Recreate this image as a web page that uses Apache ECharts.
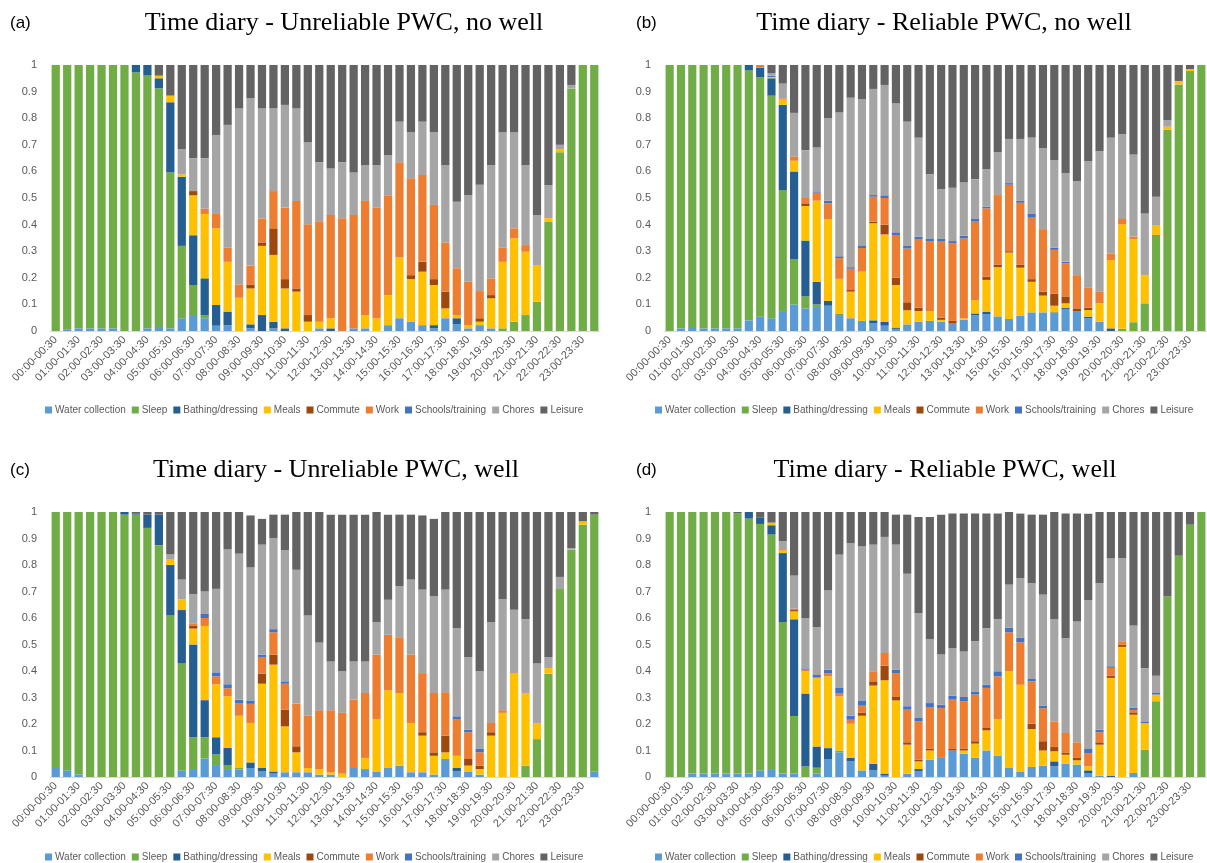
<!DOCTYPE html>
<html><head><meta charset="utf-8">
<script src="https://cdn.jsdelivr.net/npm/echarts@6/dist/echarts.min.js"></script>
<style>html,body{margin:0;padding:0;background:#fff}#c{width:1207px;height:863px}</style>
</head><body><div id="c"></div>
<script>
const timeSlots = ["00:00-00:30","00:30-01:00","01:00-01:30","01:30-02:00","02:00-02:30","02:30-03:00","03:00-03:30","03:30-04:00","04:00-04:30","04:30-05:00","05:00-05:30","05:30-06:00","06:00-06:30","06:30-07:00","07:00-07:30","07:30-08:00","08:00-08:30","08:30-09:00","09:00-09:30","09:30-10:00","10:00-10:30","10:30-11:00","11:00-11:30","11:30-12:00","12:00-12:30","12:30-13:00","13:00-13:30","13:30-14:00","14:00-14:30","14:30-15:00","15:00-15:30","15:30-16:00","16:00-16:30","16:30-17:00","17:00-17:30","17:30-18:00","18:00-18:30","18:30-19:00","19:00-19:30","19:30-20:00","20:00-20:30","20:30-21:00","21:00-21:30","21:30-22:00","22:00-22:30","22:30-23:00","23:00-23:30","23:30-00:00"];
const seriesNames = ["Water collection","Sleep","Bathing/dressing","Meals","Commute","Work","Schools/training","Chores","Leisure"];
const seriesColors = ["#5B9BD5","#70AD47","#255E91","#FFC000","#9E480E","#ED7D31","#4472C4","#A5A5A5","#636363"];
const yTickLabels = ["0","0.1","0.2","0.3","0.4","0.5","0.6","0.7","0.8","0.9","1"];
const panelTitles = ["Time diary - Unreliable PWC, no well","Time diary - Reliable PWC, no well","Time diary - Unreliable PWC, well","Time diary - Reliable PWC, well"];
const panelLetters = ["(a)","(b)","(c)","(d)"];

// (a) Unreliable PWC, no well
const aWater = [0,0.005,0.01,0.01,0.01,0.01,0,0,0.01,0.015, 0.01,0.048,0.06,0.048,0.02,0.022,0,0.01,0,0.01, 0,0,0,0.01,0,0,0.01,0.01,0,0.022, 0.048,0.035,0.022,0.01,0.048,0.025,0.01,0.022,0.01,0, 0,0,0,0,0,0,0,0];
const aSleep = [1,0.995,0.99,0.99,0.99,0.99,1,0.972,0.952,0.897, 0.586,0.272,0.113,0.012,0,0,0,0,0,0, 0,0,0,0,0,0,0,0,0,0, 0,0,0,0,0,0,0,0,0,0.01, 0.035,0.06,0.11,0.41,0.672,0.912,1,1];
const aBath = [0,0,0,0,0,0,0,0.028,0.038,0.038, 0.264,0.26,0.187,0.138,0.078,0.051,0,0.015,0.06,0.025, 0.01,0,0,0,0.01,0,0,0,0,0, 0,0,0,0.012,0,0.023,0,0,0,0, 0,0,0,0,0,0,0,0];
const aMeals = [0,0,0,0,0,0,0,0,0,0.01, 0.025,0.009,0.15,0.242,0.288,0.187,0.125,0.135,0.26,0.251, 0.15,0.148,0.035,0.025,0.038,0,0,0.05,0.048,0.113, 0.228,0.16,0.201,0.151,0.037,0.012,0.012,0.013,0.113,0.25, 0.313,0.238,0.138,0.014,0.012,0,0,0];
const aCommute = [0,0,0,0,0,0,0,0,0,0, 0,0,0.016,0,0,0,0,0.015,0.013,0.1, 0.035,0.012,0.025,0,0,0,0,0,0,0, 0,0.015,0.037,0.022,0.063,0,0,0.013,0.012,0, 0,0,0,0,0,0,0,0];
const aWork = [0,0,0,0,0,0,0,0,0,0, 0,0,0,0.02,0.054,0.053,0.05,0.071,0.09,0.14, 0.269,0.329,0.341,0.378,0.388,0.424,0.426,0.429,0.416,0.375, 0.358,0.364,0.326,0.279,0.185,0.176,0.163,0.102,0.063,0.053, 0.038,0.025,0,0,0,0,0,0];
const aSchool = [0,0,0,0,0,0,0,0,0,0, 0,0,0,0,0,0,0,0,0,0, 0,0,0,0,0,0,0,0,0,0, 0,0,0,0,0,0,0,0,0,0, 0,0,0,0,0,0,0,0];
const aChores = [0,0,0,0,0,0,0,0,0,0, 0,0.095,0.124,0.19,0.297,0.462,0.662,0.629,0.414,0.311, 0.386,0.348,0.308,0.221,0.175,0.21,0.16,0.135,0.16,0.152, 0.153,0.173,0.201,0.273,0.291,0.25,0.326,0.4,0.426,0.434, 0.361,0.301,0.188,0.125,0.016,0.013,0,0];
const aLeisure = [0,0,0,0,0,0,0,0,0,0.04, 0.115,0.316,0.35,0.35,0.263,0.225,0.163,0.125,0.163,0.163, 0.15,0.163,0.291,0.366,0.389,0.366,0.404,0.376,0.376,0.338, 0.213,0.253,0.213,0.253,0.376,0.514,0.489,0.45,0.376,0.253, 0.253,0.376,0.564,0.451,0.3,0.075,0,0];

// (b) Reliable PWC, no well
const bWater = [0,0.01,0.015,0.01,0.01,0.01,0.01,0.04,0.054,0.048, 0.075,0.1,0.085,0.09,0.095,0.06,0.048,0.038,0.03,0.02, 0.008,0.025,0.035,0.038,0.035,0.03,0.042,0.06,0.064,0.055, 0.045,0.058,0.07,0.07,0.066,0.083,0.075,0.048,0.035,0, 0,0,0,0,0,0,0,0];
const bSleep = [1,0.99,0.985,0.99,0.99,0.99,0.99,0.94,0.9,0.837, 0.455,0.17,0.045,0.01,0,0.006,0,0,0,0, 0,0,0,0,0,0,0,0,0,0, 0,0,0,0,0,0,0,0,0,0, 0.008,0.033,0.104,0.361,0.756,0.927,0.977,1];
const bBath = [0,0,0,0,0,0,0,0.02,0.036,0.065, 0.32,0.33,0.21,0.085,0.018,0,0,0,0.01,0.015, 0.005,0,0,0,0,0,0,0.006,0.009,0, 0,0,0,0,0.004,0.005,0,0.006,0,0.01, 0,0,0,0,0,0,0,0];
const bMeals = [0,0,0,0,0,0,0,0,0,0.005, 0.02,0.04,0.13,0.305,0.307,0.13,0.1,0.185,0.365,0.328, 0.16,0.053,0.04,0.037,0.007,0,0.006,0.05,0.119,0.185, 0.25,0.18,0.115,0.063,0.025,0.016,0,0.025,0.069,0.257, 0.393,0.313,0.106,0.035,0.012,0.013,0.008,0];
const bCommute = [0,0,0,0,0,0,0,0,0,0, 0,0,0.01,0,0,0,0.006,0,0.006,0.037, 0.027,0.03,0.013,0,0.008,0.008,0,0,0.012,0.01, 0.005,0.012,0.01,0.015,0.045,0.026,0.01,0.009,0,0, 0,0,0,0,0,0,0,0];
const bWork = [0,0,0,0,0,0,0,0,0.01,0, 0.005,0.015,0.02,0.03,0.06,0.078,0.08,0.089,0.094,0.1, 0.161,0.202,0.258,0.263,0.286,0.292,0.3,0.295,0.257,0.261, 0.25,0.232,0.231,0.235,0.165,0.124,0.125,0.075,0.044,0.025, 0.02,0.009,0,0,0,0,0,0];
const bSchool = [0,0,0,0,0,0,0,0,0,0.005, 0,0,0,0.005,0.01,0.007,0.006,0.008,0.006,0.01, 0.01,0.01,0.009,0.01,0.01,0.008,0.01,0.01,0.006,0, 0.006,0.007,0.016,0,0.008,0.006,0,0,0,0, 0,0,0,0,0,0,0,0];
const bChores = [0,0,0,0,0,0,0,0,0,0.01, 0.055,0.165,0.18,0.165,0.31,0.541,0.637,0.552,0.399,0.415, 0.485,0.467,0.372,0.241,0.188,0.201,0.2,0.15,0.142,0.161, 0.166,0.233,0.285,0.304,0.33,0.333,0.354,0.476,0.529,0.435, 0.318,0.309,0.232,0.109,0.025,0,0,0];
const bLeisure = [0,0,0,0,0,0,0,0,0,0.03, 0.07,0.18,0.32,0.31,0.2,0.178,0.123,0.128,0.09,0.075, 0.144,0.213,0.273,0.411,0.466,0.461,0.442,0.429,0.391,0.328, 0.278,0.278,0.273,0.313,0.357,0.407,0.436,0.361,0.323,0.273, 0.261,0.336,0.558,0.495,0.207,0.06,0.015,0];

// (c) Unreliable PWC, well
const cWater = [0.034,0.025,0.01,0,0,0,0,0,0,0, 0,0.025,0.03,0.07,0.045,0.03,0.028,0.034,0.021,0.013, 0.018,0.018,0.018,0.009,0.009,0,0.034,0.03,0.021,0.034, 0.043,0.018,0.018,0.009,0.068,0.021,0.021,0.009,0,0, 0,0,0,0,0,0,0,0.021];
const cSleep = [0.966,0.975,0.99,1,1,1,0.99,0.99,0.94,0.875, 0.61,0.405,0.12,0.08,0.04,0.015,0.006,0,0,0, 0,0,0,0,0,0,0,0,0,0, 0,0,0,0,0,0,0,0,0,0, 0,0.043,0.143,0.39,0.709,0.858,0.952,0.969];
const cBath = [0,0,0,0,0,0,0.01,0.005,0.05,0.115, 0.19,0.2,0.35,0.14,0.065,0.065,0,0.021,0.013,0.008, 0,0,0,0,0,0,0,0,0,0, 0,0,0,0,0,0.013,0,0,0,0, 0,0,0,0,0,0,0,0];
const cMeals = [0,0,0,0,0,0,0,0,0,0, 0.02,0.04,0.06,0.28,0.2,0.195,0.197,0.149,0.318,0.403, 0.173,0.075,0.016,0.021,0.009,0.013,0,0.042,0.198,0.293, 0.274,0.186,0.138,0.071,0.025,0.046,0.022,0.021,0.156,0.242, 0.392,0.274,0.061,0.021,0,0,0.013,0];
const cCommute = [0,0,0,0,0,0,0,0,0,0, 0,0,0.01,0,0,0,0,0,0.038,0.038, 0.063,0.023,0,0,0,0,0,0,0,0, 0,0,0.013,0.013,0.063,0,0.025,0.013,0.013,0, 0,0,0,0,0,0,0,0];
const cWork = [0,0,0,0,0,0,0,0,0,0, 0,0,0.01,0.03,0.03,0.03,0.046,0.072,0.063,0.084, 0.098,0.161,0.197,0.222,0.234,0.229,0.258,0.245,0.243,0.21, 0.208,0.258,0.223,0.224,0.164,0.139,0.101,0.05,0.035,0.01, 0,0,0,0,0,0,0,0];
const cSchool = [0,0,0,0,0,0,0,0,0,0, 0,0,0,0.015,0.015,0.015,0.015,0.013,0.009,0.012, 0.009,0,0,0,0,0,0,0,0,0, 0,0,0,0,0,0.01,0.01,0.013,0,0, 0,0,0,0,0,0,0,0];
const cChores = [0,0,0,0,0,0,0,0,0,0, 0.02,0.075,0.11,0.085,0.315,0.51,0.551,0.503,0.415,0.344, 0.494,0.505,0.378,0.256,0.184,0.157,0.144,0.119,0.122,0.132, 0.195,0.283,0.315,0.365,0.387,0.333,0.274,0.293,0.38,0.42, 0.239,0.279,0.224,0.042,0.046,0.006,0,0];
const cLeisure = [0,0,0,0,0,0,0,0.005,0.01,0.01, 0.16,0.255,0.31,0.3,0.29,0.14,0.157,0.195,0.097,0.088, 0.135,0.218,0.391,0.492,0.554,0.591,0.554,0.554,0.416,0.321, 0.27,0.245,0.28,0.292,0.293,0.438,0.547,0.601,0.416,0.328, 0.369,0.404,0.572,0.547,0.245,0.136,0.035,0.01];

// (d) Reliable PWC, well
const dWater = [0,0,0.013,0.013,0.013,0.013,0.013,0.013,0.025,0.03, 0.013,0.013,0,0.013,0.068,0.093,0.059,0.025,0.025,0.005, 0,0.013,0.021,0.065,0.072,0.1,0.088,0.072,0.1,0.081, 0.034,0.021,0.038,0.043,0.04,0.05,0.047,0.015,0.005,0, 0,0.015,0,0,0,0,0,0];
const dSleep = [1,1,0.987,0.987,0.987,0.987,0.982,0.962,0.93,0.885, 0.572,0.217,0.04,0.022,0,0.007,0,0,0,0, 0,0,0,0,0,0,0,0,0,0, 0,0,0,0,0,0,0,0,0,0, 0,0,0.103,0.286,0.682,0.835,0.952,1];
const dBath = [0,0,0,0,0,0,0,0.025,0.025,0.035, 0.26,0.365,0.275,0.08,0.041,0,0.013,0,0.025,0.008, 0,0,0.009,0,0,0,0,0,0,0, 0,0,0,0,0.019,0,0,0.01,0,0.005, 0,0,0,0,0,0,0,0];
const dMeals = [0,0,0,0,0,0,0,0,0,0.01, 0.01,0.03,0.085,0.26,0.271,0.204,0.129,0.206,0.295,0.352, 0.289,0.109,0.029,0.035,0,0,0.012,0.054,0.076,0.138, 0.365,0.327,0.143,0.057,0.038,0.034,0.016,0.015,0.117,0.369, 0.491,0.22,0.1,0.025,0,0,0,0];
const dCommute = [0,0,0,0,0,0,0,0,0,0, 0,0.005,0,0,0,0,0,0.011,0.016,0.055, 0.013,0.009,0.006,0.006,0,0.006,0.006,0.009,0.009,0, 0,0,0.02,0.035,0.016,0.007,0.009,0,0.009,0.008, 0.008,0.009,0,0,0,0,0,0];
const dWork = [0,0,0,0,0,0,0,0,0,0, 0.005,0.005,0.005,0,0.012,0.013,0.015,0.027,0.038,0.048, 0.09,0.123,0.145,0.158,0.188,0.186,0.18,0.176,0.151,0.161, 0.147,0.16,0.16,0.125,0.097,0.075,0.059,0.05,0.038,0.03, 0.013,0.009,0,0,0,0,0,0];
const dSchool = [0,0,0,0,0,0,0,0,0,0, 0,0,0.005,0.01,0.013,0.019,0.015,0.02,0,0, 0.013,0.013,0.013,0.015,0.013,0.015,0.016,0.012,0.012,0.019, 0.017,0.017,0.009,0.009,0,0,0,0.016,0.01,0.006, 0,0.008,0.007,0.006,0,0,0,0];
const dChores = [0,0,0,0,0,0,0,0,0,0, 0.03,0.125,0.19,0.18,0.299,0.503,0.652,0.581,0.478,0.438, 0.472,0.5,0.396,0.242,0.189,0.18,0.172,0.189,0.214,0.197, 0.163,0.226,0.362,0.419,0.386,0.359,0.456,0.562,0.553,0.408, 0.314,0.311,0.201,0.065,0,0,0,0];
const dLeisure = [0,0,0,0,0,0,0.005,0,0.02,0.04, 0.11,0.24,0.4,0.435,0.296,0.161,0.117,0.13,0.123,0.094, 0.113,0.223,0.362,0.46,0.528,0.507,0.52,0.482,0.432,0.398, 0.277,0.243,0.258,0.302,0.404,0.469,0.407,0.325,0.268,0.174, 0.174,0.429,0.589,0.618,0.318,0.165,0.048,0];

const panelData = [
  [aWater,aSleep,aBath,aMeals,aCommute,aWork,aSchool,aChores,aLeisure],
  [bWater,bSleep,bBath,bMeals,bCommute,bWork,bSchool,bChores,bLeisure],
  [cWater,cSleep,cBath,cMeals,cCommute,cWork,cSchool,cChores,cLeisure],
  [dWater,dSleep,dBath,dMeals,dCommute,dWork,dSchool,dChores,dLeisure]
];

// layout
const layout = [
  {left: 50,  top: 65,  height: 266, titleX: 344, titleY: 23, letterX: 10,  legendX: 40,  legendY: 400},
  {left: 664, top: 65,  height: 266, titleX: 944, titleY: 23, letterX: 636, legendX: 650, legendY: 400},
  {left: 50,  top: 512, height: 265, titleX: 336, titleY: 470, letterX: 10,  legendX: 40,  legendY: 847},
  {left: 664, top: 512, height: 265, titleX: 945, titleY: 470, letterX: 636, legendX: 650, legendY: 847}
];
const GRID_W = 550;
const labelColor = '#595959';
const sansFont = 'Liberation Sans, Arial, sans-serif';

const grids = [], xAxes = [], yAxes = [], series = [], legends = [], graphics = [];
layout.forEach((L, p) => {
  grids.push({left: L.left, top: L.top, width: GRID_W, height: L.height, containLabel: false});
  xAxes.push({
    type: 'category', gridIndex: p, data: timeSlots,
    axisTick: {show: false},
    axisLine: {show: true, lineStyle: {color: '#D9D9D9'}},
    axisLabel: {interval: 1, rotate: 45, fontSize: 11, color: labelColor, fontFamily: sansFont, margin: 7}
  });
  yAxes.push({
    type: 'value', gridIndex: p, min: 0, max: 1, interval: 0.1,
    splitLine: {show: false}, axisLine: {show: false}, axisTick: {show: false},
    axisLabel: {fontSize: 11, color: labelColor, fontFamily: sansFont, margin: 13,
      formatter: v => yTickLabels[Math.round(v * 10)]}
  });
  seriesNames.forEach((name, k) => {
    series.push({
      type: 'bar', name: name, stack: 'panel' + p,
      xAxisIndex: p, yAxisIndex: p,
      data: panelData[p][k],
      barCategoryGap: '28%',
      itemStyle: {color: seriesColors[k]},
      emphasis: {disabled: true},
      animation: false
    });
  });
  legends.push({
    data: seriesNames, left: L.legendX, top: L.legendY,
    icon: 'rect', itemWidth: 7, itemHeight: 7, itemGap: 6,
    textStyle: {fontSize: 10, color: labelColor, fontFamily: sansFont, padding: [0, 0, 0, -2]},
    selectedMode: false
  });
  graphics.push({
    type: 'text', x: L.titleX, y: L.titleY,
    style: {text: panelTitles[p], fill: '#000', fontSize: 26, fontFamily: 'Liberation Serif, serif', align: 'center', verticalAlign: 'middle'}
  });
  graphics.push({
    type: 'text', x: L.letterX, y: L.titleY,
    style: {text: panelLetters[p], fill: '#000', fontSize: 17, fontFamily: sansFont, align: 'left', verticalAlign: 'middle'}
  });
});

const chart = echarts.init(document.getElementById('c'), null, {renderer: 'canvas'});
chart.setOption({
  backgroundColor: '#fff',
  animation: false,
  grid: grids, xAxis: xAxes, yAxis: yAxes, series: series, legend: legends, graphic: graphics
});
</script>
</body></html>
